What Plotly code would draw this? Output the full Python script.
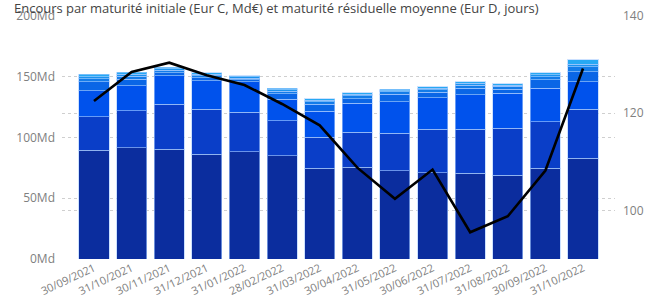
import plotly.graph_objects as go

dates = ["30/09/2021", "31/10/2021", "30/11/2021", "31/12/2021", "31/01/2022", "28/02/2022",
         "31/03/2022", "30/04/2022", "31/05/2022", "30/06/2022", "31/07/2022", "31/08/2022",
         "30/09/2022", "31/10/2022"]

# Encours par maturité initiale (Md€), stacked from bottom
seg1 = [89.7, 91.6, 90.3, 86.4, 88.3, 85.0, 74.6, 75.5, 72.7, 71.0, 70.5, 68.9, 74.6, 82.9]
seg2 = [27.4, 30.4, 37.0, 36.8, 32.4, 28.6, 25.6, 28.8, 30.8, 35.7, 36.2, 38.7, 38.4, 40.3]
seg3 = [21.4, 20.4, 23.7, 23.5, 25.0, 17.8, 21.6, 23.8, 26.0, 26.1, 28.3, 28.8, 27.5, 22.7]
seg4 = [7.2, 5.5, 2.5, 2.4, 1.8, 4.5, 5.5, 4.0, 6.0, 4.5, 5.5, 3.5, 7.0, 8.2]
seg5 = [2.5, 2.5, 1.8, 1.8, 1.4, 2.0, 2.0, 2.2, 2.0, 2.2, 2.5, 2.2, 2.5, 4.1]
seg6 = [1.9, 1.6, 1.2, 1.2, 1.0, 1.3, 1.2, 1.3, 1.1, 1.1, 1.5, 1.1, 1.6, 2.2]
seg7 = [1.9, 1.7, 1.3, 1.2, 1.0, 1.3, 1.2, 1.3, 1.1, 1.2, 1.5, 1.1, 1.7, 3.4]

# Maturité résiduelle moyenne (jours)
maturite = [122.5, 128.5, 130.4, 127.8, 125.8, 121.9, 117.5, 108.8, 102.4, 108.4, 95.5, 98.8, 108.2, 129.2]

segments = [seg1, seg2, seg3, seg4, seg5, seg6, seg7]
colors = ["#0B2D9E", "#0A3EC8", "#0052EC", "#0A66E6", "#137CE9", "#1B92EE", "#27A9F3"]

fig = go.Figure()
for vals, col in zip(segments, colors):
    fig.add_trace(go.Bar(x=dates, y=vals, marker=dict(color=col, line=dict(color="rgba(170,205,255,0.6)", width=1)),
                         yaxis="y", showlegend=False))

fig.add_trace(go.Scatter(x=dates, y=maturite, mode="lines", line=dict(color="black", width=2.6),
                         yaxis="y2", showlegend=False))

tickfont = dict(family="Open Sans", size=12, color="#808080")

fig.update_layout(
    width=647, height=300,
    margin=dict(l=62, r=32, t=16, b=41, autoexpand=False),
    barmode="stack", bargap=0.2,
    plot_bgcolor="white", paper_bgcolor="white",
    xaxis=dict(type="category", range=[-0.85, 13.85], tickangle=-25, showgrid=False, automargin=False,
               tickfont=dict(family="Open Sans", size=11, color="#808080"), ticks=""),
    yaxis=dict(range=[0, 200], tickvals=[0, 50, 100, 150, 200],
               ticktext=["0Md", "50Md", "100Md", "150Md", "200Md"], automargin=False,
               showgrid=True, gridcolor="#cfcfcf", griddash="dot", gridwidth=1,
               zeroline=False, tickfont=tickfont, ticklabelstandoff=6),
    yaxis2=dict(range=[90, 140], tickvals=[100, 120, 140], overlaying="y", side="right", automargin=False,
                showgrid=True, gridcolor="#cfcfcf", griddash="dot", gridwidth=1,
                zeroline=False, tickfont=tickfont, ticklabelstandoff=7),
    annotations=[dict(text="Encours par maturité initiale (Eur C, Md€) et maturité résiduelle moyenne (Eur D, jours)",
                      xref="paper", yref="paper", x=-0.0886, y=1.0741, xanchor="left", yanchor="top",
                      borderpad=0, showarrow=False, font=dict(family="Open Sans", size=13, color="#444444"))],
)

fig.write_html("out.html", config={"displayModeBar": False},
               post_script="document.body.style.margin='0px';")
